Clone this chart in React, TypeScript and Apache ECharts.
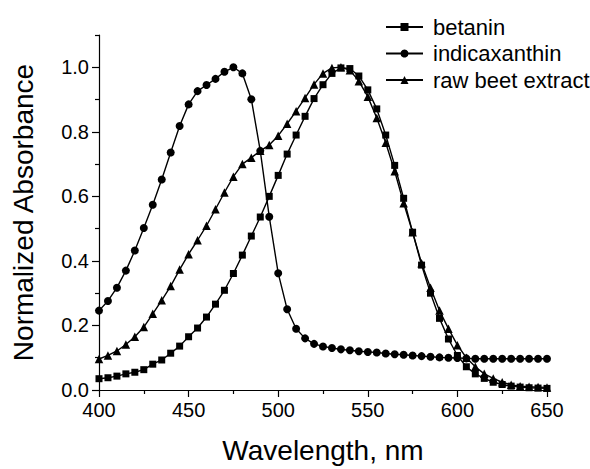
import React, { useEffect, useRef } from "react";
import * as echarts from "echarts";

const wavelengths: number[] = [
  400, 405, 410, 415, 420, 425, 430, 435, 440, 445, 450, 455, 460, 465, 470, 475, 480, 485, 490, 495,
  500, 505, 510, 515, 520, 525, 530, 535, 540, 545, 550, 555, 560, 565, 570, 575, 580, 585, 590, 595,
  600, 605, 610, 615, 620, 625, 630, 635, 640, 645, 650,
];

const betanin: number[] = [
  0.035, 0.038, 0.043, 0.05, 0.055, 0.063, 0.08, 0.093, 0.114, 0.136, 0.165, 0.192, 0.226, 0.266, 0.309,
  0.361, 0.418, 0.477, 0.536, 0.6, 0.665, 0.731, 0.79, 0.848, 0.903, 0.946, 0.981, 0.998, 0.996, 0.973,
  0.93, 0.871, 0.79, 0.696, 0.594, 0.489, 0.387, 0.3, 0.222, 0.158, 0.107, 0.072, 0.05, 0.036, 0.024,
  0.017, 0.012, 0.009, 0.007, 0.006, 0.005,
];

const indicaxanthin: number[] = [
  0.246, 0.276, 0.317, 0.37, 0.432, 0.502, 0.574, 0.652, 0.736, 0.818, 0.885, 0.926, 0.945, 0.964, 0.986,
  1.0, 0.981, 0.901, 0.741, 0.537, 0.362, 0.25, 0.19, 0.16, 0.143, 0.135, 0.13, 0.126, 0.123, 0.12,
  0.118, 0.116, 0.113, 0.111, 0.109, 0.107, 0.105, 0.103, 0.101, 0.1, 0.099, 0.098, 0.097, 0.097, 0.097,
  0.097, 0.097, 0.097, 0.097, 0.097, 0.097,
];

const rawBeetExtract: number[] = [
  0.096, 0.107, 0.121, 0.141, 0.165, 0.195, 0.236, 0.278, 0.322, 0.373, 0.421, 0.464, 0.509, 0.56, 0.612,
  0.661, 0.7, 0.72, 0.741, 0.759, 0.788, 0.825, 0.864, 0.905, 0.947, 0.981, 0.998, 1.0, 0.991, 0.957,
  0.909, 0.843, 0.766, 0.678, 0.579, 0.489, 0.393, 0.317, 0.246, 0.19, 0.139, 0.1, 0.072, 0.05, 0.036,
  0.024, 0.016, 0.012, 0.01, 0.009, 0.008,
];

const seriesNames: string[] = ["betanin", "indicaxanthin", "raw beet extract"];
const seriesSymbols: string[] = ["rect", "circle", "triangle"];
const majorYTicks: number[] = [0, 0.2, 0.4, 0.6, 0.8, 1.0];
const minorYTicks: number[] = [0.1, 0.3, 0.5, 0.7, 0.9, 1.1];

const FONT = "'Liberation Sans', Arial, sans-serif";

export default function App() {
  const ref = useRef<HTMLDivElement>(null);

  useEffect(() => {
    document.body.style.margin = "0";
    if (!ref.current) return;
    const chart = echarts.init(ref.current, null, { renderer: "svg" });
    const datasets = [betanin, indicaxanthin, rawBeetExtract];
    const sizes = [7, 8, 8.5];

    chart.setOption({
      animation: false,
      backgroundColor: "#ffffff",
      textStyle: { fontFamily: FONT, color: "#000" },
      grid: { left: 99, right: 43, top: 35, bottom: 74, containLabel: false },
      legend: {
        show: true,
        left: 380,
        top: 11,
        orient: "vertical",
        itemWidth: 37,
        itemHeight: 10,
        itemGap: 4.5,
        data: seriesNames,
        textStyle: { fontFamily: FONT, fontSize: 22, color: "#000", lineHeight: 22, padding: [0, 0, 0, 5] },
      },
      xAxis: {
        type: "value",
        min: 400,
        max: 650,
        interval: 50,
        name: "Wavelength, nm",
        nameLocation: "middle",
        nameGap: 46,
        nameTextStyle: { fontFamily: FONT, fontSize: 28, color: "#000" },
        axisLine: { show: true, lineStyle: { color: "#000", width: 1.2 } },
        axisTick: { show: true, length: 7, lineStyle: { color: "#000", width: 1.2 } },
        minorTick: { show: true, splitNumber: 2, length: 4, lineStyle: { color: "#000", width: 1.2 } },
        axisLabel: { fontFamily: FONT, fontSize: 20, color: "#000", margin: 10 },
        splitLine: { show: false },
        minorSplitLine: { show: false },
      },
      yAxis: [
        {
          type: "value",
          min: 0,
          max: 1.1,
          name: "Normalized Absorbance",
          nameLocation: "middle",
          nameGap: 62,
          nameTextStyle: { fontFamily: FONT, fontSize: 28, color: "#000" },
          axisLine: { show: true, lineStyle: { color: "#000", width: 1.2 } },
          axisTick: { show: true, length: 7, customValues: majorYTicks, lineStyle: { color: "#000", width: 1.2 } },
          axisLabel: {
            fontFamily: FONT,
            fontSize: 20,
            color: "#000",
            margin: 10,
            customValues: majorYTicks,
            formatter: (v: number) => v.toFixed(1),
          },
          splitLine: { show: false },
        },
        {
          type: "value",
          min: 0,
          max: 1.1,
          position: "left",
          offset: 0,
          axisLine: { show: false },
          axisTick: { show: true, length: 4, customValues: minorYTicks, lineStyle: { color: "#000", width: 1.2 } },
          axisLabel: { show: false },
          splitLine: { show: false },
        },
      ],
      series: seriesNames.map((name, i) => ({
        name,
        type: "line",
        xAxisIndex: 0,
        yAxisIndex: 0,
        data: wavelengths.map((w, j) => [w, datasets[i][j]]),
        symbol: seriesSymbols[i],
        symbolSize: sizes[i],
        showAllSymbol: true,
        lineStyle: { color: "#000", width: 1.4 },
        itemStyle: { color: "#000", borderWidth: 0 },
        emphasis: { disabled: true },
      })),
    });

    return () => chart.dispose();
  }, []);

  return <div ref={ref} style={{ width: 590, height: 469 }} />;
}
